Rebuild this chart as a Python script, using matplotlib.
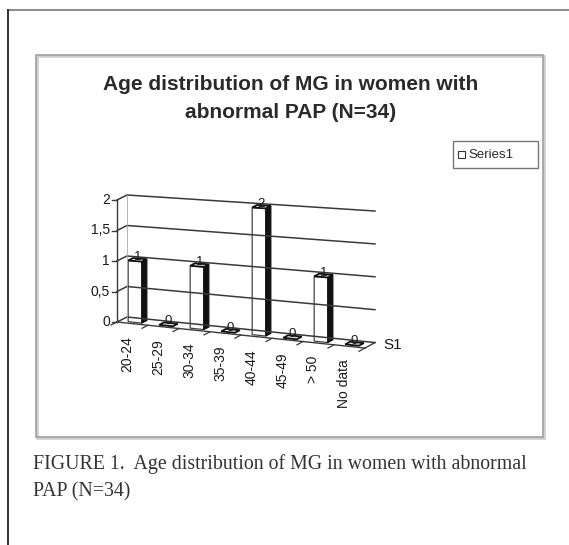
import matplotlib
matplotlib.use('Agg')
import matplotlib.pyplot as plt
from matplotlib.patches import Polygon, Rectangle

plt.rcParams['font.family'] = ['Liberation Sans', 'DejaVu Sans']

categories = ['20-24', '25-29', '30-34', '35-39', '40-44', '45-49', '> 50', 'No data']
counts = [1, 0, 1, 0, 2, 0, 1, 0]
y_ticks = [0, 0.5, 1, 1.5, 2]
y_tick_labels = ['0', '0,5', '1', '1,5', '2']
series_name = 'Series1'
depth_label = 'S1'
title_lines = ['Age distribution of MG in women with', 'abnormal PAP (N=34)']
caption_lines = ['FIGURE 1.  Age distribution of MG in women with abnormal', 'PAP (N=34)']

# excel-ish 3d look, everything worked out in pixel space
X0, Y0 = 117, 322          # front left corner of the floor
SLOT = 31.0                # px per category
DEPX, DEPY = 10, 5         # full depth offset of the floor
SY = 61.0                  # px per unit of value
VPX, VPY = -3045, -10      # vanishing point for the category direction


def proj(i, d, v):
    xl = X0 + DEPX * d
    yl = Y0 - DEPY * d - SY * v
    t = SLOT * (i + 0.5)
    slope = (yl - VPY) / (xl - VPX)
    return xl + t, yl + t * slope


fig = plt.figure(figsize=(5.69, 5.45), dpi=100)
ax = fig.add_axes([0, 0, 1, 1])
ax.set_xlim(0, 569)
ax.set_ylim(545, 0)
ax.axis('off')

txt = '#1a1a1a'

# page frame
ax.plot([8, 569], [10, 10], color='#777777', lw=1.2)
ax.plot([8, 8], [10, 545], color='#222222', lw=1.3)

# chart area border (with a bit of shadow)
ax.add_patch(Rectangle((37, 56), 507, 382, fill=False, edgecolor='#cfcfcf', lw=2.0))
ax.add_patch(Rectangle((36, 55), 507, 382, fill=False, edgecolor='#a0a0a0', lw=1.2))

# title
ax.text(291, 85, title_lines[0], ha='center', va='center', fontsize=15,
        fontweight='bold', color='#2a2a2a')
ax.text(291, 112, title_lines[1], ha='center', va='center', fontsize=15,
        fontweight='bold', color='#2a2a2a')

ncat = len(categories)
left, right = -0.5, ncat - 0.5
grid_col = '#3a3a3a'

# back wall + side wall gridlines
for v in y_ticks:
    xa, ya = proj(left, 0, v)
    xb, yb = proj(left, 1, v)
    xc, yc = proj(right, 1, v)
    ax.plot([xa, xb, xc], [ya, yb, yc], color=grid_col, lw=1.1)
    # tick on the value axis
    ax.plot([xa - 5, xa], [ya, ya], color=grid_col, lw=1.0)
for v, lab in zip(y_ticks, y_tick_labels):
    xa, ya = proj(left, 0, v)
    ax.text(xa - 7, ya, lab, ha='right', va='center', fontsize=10, color=txt)

# wall edges
xa, ya = proj(left, 0, 0)
xb, yb = proj(left, 0, max(y_ticks))
ax.plot([xa, xb], [ya, yb], color=grid_col, lw=1.0)
xa, ya = proj(left, 1, 0)
xb, yb = proj(left, 1, max(y_ticks))
ax.plot([xa, xb], [ya, yb], color='#aaaaaa', lw=0.6)

# floor
fl = [proj(left, 0, 0), proj(right, 0, 0), proj(right, 1, 0)]
ax.plot([p[0] for p in fl], [p[1] for p in fl], color=grid_col, lw=1.0)

# category ticks
for k in range(ncat + 1):
    b = k - 0.5
    xa, ya = proj(b, 0, 0)
    xb, yb = proj(b, -0.6, 0)
    ax.plot([xa, xb], [ya, yb], color=grid_col, lw=0.9)

# bars
hw = 0.22
d0, d1 = 0.25, 0.75
for i, v in enumerate(counts):
    front = [proj(i - hw, d0, 0), proj(i + hw, d0, 0), proj(i + hw, d0, v), proj(i - hw, d0, v)]
    side = [proj(i + hw, d0, 0), proj(i + hw, d1, 0), proj(i + hw, d1, v), proj(i + hw, d0, v)]
    top = [proj(i - hw, d0, v), proj(i + hw, d0, v), proj(i + hw, d1, v), proj(i - hw, d1, v)]
    if v > 0:
        ax.add_patch(Polygon(front, closed=True, facecolor='white', edgecolor='#444444', lw=0.9))
        ax.add_patch(Polygon(side, closed=True, facecolor='#111111', edgecolor='#111111', lw=0.9))
    ax.add_patch(Polygon(top, closed=True, facecolor='#dddddd', edgecolor='#111111', lw=1.3))
    xt, yt = proj(i, 0.5, v)
    ax.text(xt, yt - 3, str(v), ha='center', va='center', fontsize=9.5, color=txt)

# category labels
for i, lab in enumerate(categories):
    xl, yl = proj(i, -0.5, 0)
    ax.text(xl, yl + 10, lab, rotation=90, ha='center', va='top', fontsize=10,
            color=txt)

xs, ys = proj(right, 0.5, 0)
ax.text(xs + 13, ys, depth_label, ha='left', va='center', fontsize=11, color=txt)

# legend
ax.add_patch(Rectangle((453, 141), 85, 27, fill=False, edgecolor='#777777', lw=1.0))
ax.add_patch(Rectangle((458, 151), 7, 7, facecolor='white', edgecolor='#333333', lw=0.8))
ax.text(468, 155, series_name, ha='left', va='center', fontsize=9.5, color='#2a2a2a')

# caption
ax.text(33, 464, caption_lines[0], ha='left', va='center', fontsize=14.3,
        family='Liberation Serif', color='#333333')
ax.text(33, 492, caption_lines[1], ha='left', va='center', fontsize=14.3,
        family='Liberation Serif', color='#333333')

fig.savefig('out.png', dpi=100)
